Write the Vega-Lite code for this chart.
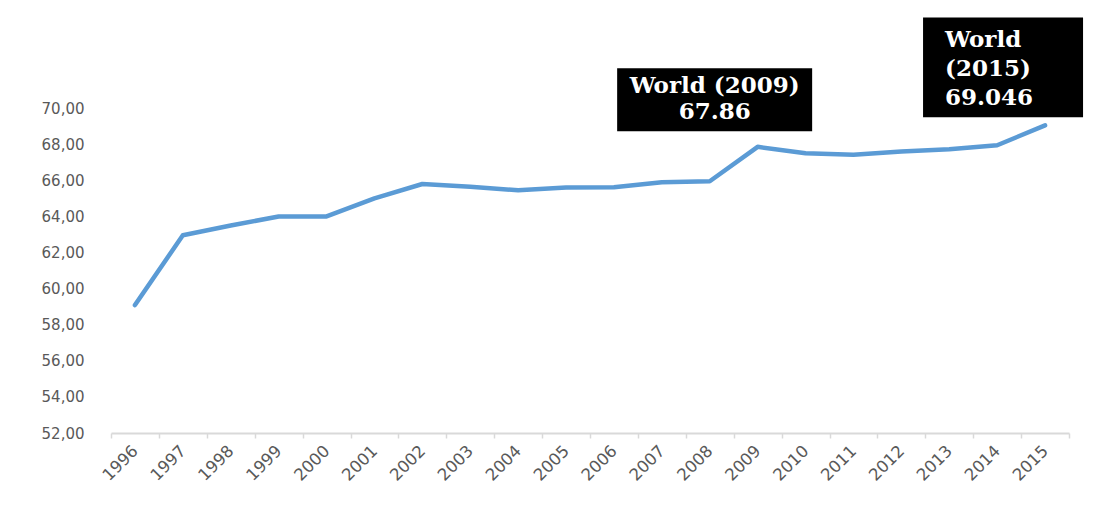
{
  "$schema": "https://vega.github.io/schema/vega-lite/v6.json",
  "autosize": {"type": "none"},
  "width": 958,
  "height": 415,
  "padding": {"left": 111, "top": 18, "right": 25, "bottom": 72},
  "background": "white",
  "config": {"view": {"stroke": null}},
  "datasets": {
    "series": [
      {"year": "1996", "value": 59.09},
      {"year": "1997", "value": 62.96},
      {"year": "1998", "value": 63.5},
      {"year": "1999", "value": 64.0},
      {"year": "2000", "value": 64.0},
      {"year": "2001", "value": 65.0},
      {"year": "2002", "value": 65.8},
      {"year": "2003", "value": 65.65},
      {"year": "2004", "value": 65.45},
      {"year": "2005", "value": 65.6},
      {"year": "2006", "value": 65.62},
      {"year": "2007", "value": 65.9},
      {"year": "2008", "value": 65.95},
      {"year": "2009", "value": 67.86},
      {"year": "2010", "value": 67.5},
      {"year": "2011", "value": 67.42},
      {"year": "2012", "value": 67.6},
      {"year": "2013", "value": 67.72},
      {"year": "2014", "value": 67.95},
      {"year": "2015", "value": 69.046}
    ]
  },
  "layer": [
    {
      "data": {"name": "series"},
      "mark": {"type": "line", "color": "#5b9bd5", "strokeWidth": 4.5, "strokeCap": "round", "strokeJoin": "round"},
      "encoding": {
        "x": {
          "field": "year", "type": "ordinal",
          "scale": {"paddingInner": 0, "paddingOuter": 0},
          "axis": {
            "title": null,
            "labelAngle": -45,
            "labelAlign": "right",
            "labelBaseline": "middle",
            "labelFont": "DejaVu Sans",
            "labelFontSize": 16.5,
            "labelColor": "#595959",
            "labelPadding": 10,
            "tickBand": "extent",
            "tickColor": "#d9d9d9",
            "tickSize": 5,
            "tickWidth": 1.5,
            "domainColor": "#d9d9d9",
            "domainWidth": 2
          }
        },
        "y": {
          "field": "value", "type": "quantitative",
          "scale": {"domain": [52, 75], "nice": false, "zero": false},
          "axis": {
            "title": null,
            "values": [52, 54, 56, 58, 60, 62, 64, 66, 68, 70],
            "labelExpr": "replace(format(datum.value, '.2f'), '.', ',')",
            "labelFont": "DejaVu Sans",
            "labelFontSize": 15,
            "labelColor": "#595959",
            "labelPadding": 27,
            "ticks": false,
            "domain": false,
            "grid": false
          }
        }
      }
    },
    {
      "data": {"values": [{"year": "2009", "top": 72.21, "bottom": 68.72}]},
      "mark": {"type": "bar", "color": "black", "width": 195, "xOffset": -43},
      "encoding": {
        "x": {"field": "year", "type": "ordinal"},
        "y": {"field": "top", "type": "quantitative"},
        "y2": {"field": "bottom"}
      }
    },
    {
      "data": {"values": [{"year": "2015", "top": 75.03, "bottom": 69.5}]},
      "mark": {"type": "bar", "color": "black", "width": 160, "xOffset": -42},
      "encoding": {
        "x": {"field": "year", "type": "ordinal"},
        "y": {"field": "top", "type": "quantitative"},
        "y2": {"field": "bottom"}
      }
    },
    {
      "data": {"values": [{"year": "2009", "pos": 71.21, "label": "World (2009)\n67.86"}]},
      "mark": {"type": "text", "color": "white", "font": "DejaVu Serif", "fontWeight": "bold", "fontSize": 23, "lineBreak": "\n", "lineHeight": 26, "align": "center", "baseline": "middle", "xOffset": -43},
      "encoding": {
        "x": {"field": "year", "type": "ordinal"},
        "y": {"field": "pos", "type": "quantitative"},
        "text": {"field": "label"}
      }
    },
    {
      "data": {"values": [{"year": "2015", "pos": 73.76, "label": "World\n(2015)\n69.046"}]},
      "mark": {"type": "text", "color": "white", "font": "DejaVu Serif", "fontWeight": "bold", "fontSize": 23, "lineBreak": "\n", "lineHeight": 29, "align": "left", "baseline": "middle", "xOffset": -100},
      "encoding": {
        "x": {"field": "year", "type": "ordinal"},
        "y": {"field": "pos", "type": "quantitative"},
        "text": {"field": "label"}
      }
    }
  ]
}
